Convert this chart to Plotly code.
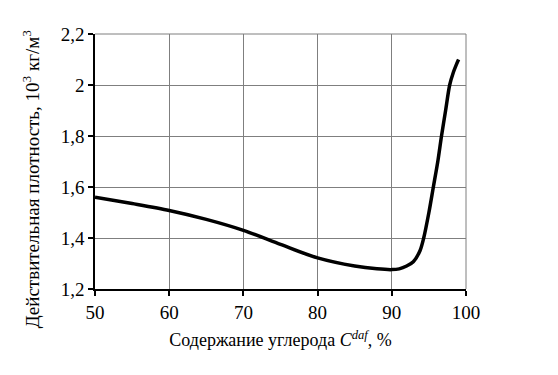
import plotly.graph_objects as go

carbon = [50, 55, 60, 65, 70, 75, 80, 85, 88, 90, 91, 92, 92.9, 93.8, 94.3, 95.0, 95.6, 96.2, 96.7, 97.25, 97.8, 98.3, 98.7, 99]
density = [1.56, 1.535, 1.508, 1.473, 1.43, 1.375, 1.322, 1.29, 1.279, 1.276, 1.279, 1.29, 1.307, 1.35, 1.40, 1.50, 1.60, 1.70, 1.80, 1.90, 2.00, 2.05, 2.08, 2.10]

x_ticks = [50, 60, 70, 80, 90, 100]
y_ticks = [1.2, 1.4, 1.6, 1.8, 2.0, 2.2]
y_tick_labels = ["1,2", "1,4", "1,6", "1,8", "2", "2,2"]

font = "Liberation Serif"

fig = go.Figure()
fig.add_trace(go.Scatter(
    x=carbon, y=density, mode="lines",
    line=dict(color="black", width=3.5, shape="spline", smoothing=0.8),
    showlegend=False, hoverinfo="skip",
))

fig.update_layout(
    width=550, height=367,
    margin=dict(l=87, r=92, t=26, b=86),
    paper_bgcolor="white", plot_bgcolor="white",
    font=dict(family=font, color="black", size=19),
    xaxis=dict(
        range=[50, 100], tickvals=x_ticks, ticktext=[str(v) for v in x_ticks],
        showgrid=True, gridcolor="#7f7f7f", gridwidth=1,
        showline=True, linecolor="black", linewidth=1.5, mirror=False,
        ticks="outside", ticklen=5, tickcolor="black", tickwidth=1.5,
        tickfont=dict(family=font, size=19), zeroline=False,
        title=dict(text="Содержание углерода <i>C<sup>daf</sup></i>, %",
                   font=dict(family=font, size=18), standoff=12),
    ),
    yaxis=dict(
        range=[1.2, 2.2], tickvals=y_ticks, ticktext=y_tick_labels,
        showgrid=True, gridcolor="#7f7f7f", gridwidth=1,
        showline=True, linecolor="black", linewidth=1.5,
        ticks="outside", ticklen=5, tickcolor="black", tickwidth=1.5,
        tickfont=dict(family=font, size=19), zeroline=False,
    ),
    annotations=[dict(
        text="Действительная плотность, 10<sup>3</sup> кг/м<sup>3</sup>",
        xref="paper", yref="paper", x=-0.1725, y=0.43,
        xanchor="center", yanchor="middle", textangle=-90,
        showarrow=False, font=dict(family=font, size=19, color="black"),
    )],
)

fig.add_shape(type="line", xref="paper", yref="paper", x0=0, x1=1, y0=1, y1=1,
              line=dict(color="#7f7f7f", width=1))
fig.add_shape(type="line", xref="paper", yref="paper", x0=1, x1=1, y0=0, y1=1,
              line=dict(color="#7f7f7f", width=1))

fig.write_html("out.html")
